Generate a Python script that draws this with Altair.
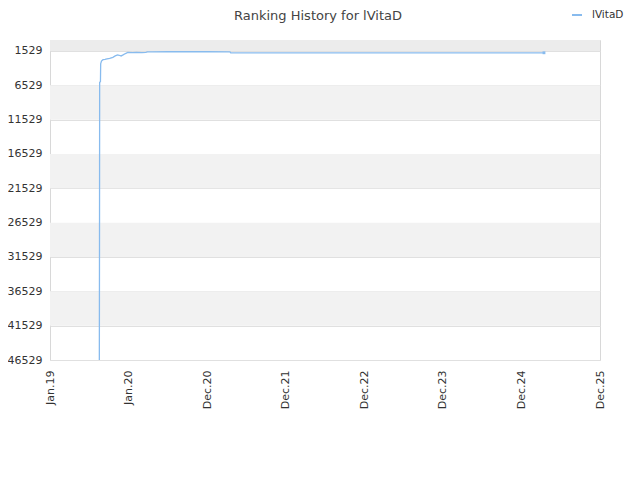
import altair as alt
import pandas as pd

# x in "tick units": 0 = Jan.19, 1 = Jan.20, 2 = Dec.20, ... 7 = Dec.25
tick_labels = ["Jan.19", "Jan.20", "Dec.20", "Dec.21", "Dec.22", "Dec.23", "Dec.24", "Dec.25"]
x_units = [0.628, 0.630, 0.632, 0.642, 0.645, 0.655, 0.675, 0.700, 0.725, 0.760, 0.800,
           0.830, 0.860, 0.880, 0.905, 0.930, 0.960, 0.990, 1.05, 1.10, 1.17, 1.22,
           1.24, 1.30, 1.50, 2.00, 2.29, 2.30, 3.00, 4.00, 5.00, 6.287]
ranks = [46529, 30000, 6100, 6000, 3400, 3000, 2800, 2750, 2680, 2600, 2450,
         2250, 2100, 2150, 2250, 2100, 1900, 1750, 1760, 1750, 1760, 1740,
         1660, 1650, 1640, 1640, 1650, 1790, 1790, 1790, 1790, 1790]
y_ticks = [1529, 6529, 11529, 16529, 21529, 26529, 31529, 36529, 41529, 46529]
top_band = [-71, 1529]
band_start = [6529, 16529, 26529, 36529]
band_end = [11529, 21529, 31529, 41529]

title_text = "Ranking History for lVitaD"
series = "lVitaD"
line_color = "#88bbee"
df = pd.DataFrame({"x": x_units, "rank": ranks, "player": series})
bands = pd.DataFrame({"y": band_start, "y2": band_end})
top = pd.DataFrame({"y": [top_band[0]], "y2": [top_band[1]]})

ydom = [-71, 46529]
xscale = alt.Scale(domain=[0, 7], nice=False, zero=False)
yscale = alt.Scale(domain=ydom, reverse=True, nice=False, zero=False)

label_expr = "[" + ",".join("'%s'" % t for t in tick_labels) + "][round(datum.value)]"

x_axis = alt.Axis(values=list(range(8)), labelExpr=label_expr, labelAngle=270,
                  labelAlign="right", labelBaseline="middle", labelPadding=10,
                  labelFontSize=11, labelColor="#333333", labelFont="DejaVu Sans",
                  grid=False, ticks=False, domain=False, labelOverlap=False)
y_axis = alt.Axis(values=y_ticks, labelFontSize=11, labelColor="#333333",
                  labelFont="DejaVu Sans", grid=True, gridColor="#e0e0e0",
                  ticks=False, domain=False, labelPadding=8, format="d",
                  labelOverlap=False, labelBound=False)

top_layer = alt.Chart(top).mark_rect(color="#ececec").encode(
    x=alt.value(0), x2=alt.value(550),
    y=alt.Y("y:Q", scale=yscale, axis=y_axis, title=None),
    y2="y2:Q",
)
band_layer = alt.Chart(bands).mark_rect(color="#f2f2f2").encode(
    x=alt.value(0), x2=alt.value(550),
    y=alt.Y("y:Q", scale=yscale, axis=y_axis, title=None),
    y2="y2:Q",
)

line = alt.Chart(df).mark_line(strokeWidth=1.3, interpolate="linear", color=line_color).encode(
    x=alt.X("x:Q", scale=xscale, title=None, axis=x_axis),
    y=alt.Y("rank:Q", scale=yscale, title=None, axis=y_axis),
)

end_point = alt.Chart(df.tail(1)).mark_point(shape="square", size=8, filled=True,
                                             color=line_color, opacity=1).encode(
    x=alt.X("x:Q", scale=xscale, axis=x_axis, title=None),
    y=alt.Y("rank:Q", scale=yscale, axis=y_axis, title=None))

legend_df = pd.DataFrame({"player": [series], "title": [title_text]})
legend_sym = alt.Chart(legend_df).mark_rule(color=line_color, strokeWidth=2).encode(
    x=alt.value(522), x2=alt.value(532), y=alt.value(-25))
legend_txt = alt.Chart(legend_df).mark_text(align="left", baseline="middle", fontSize=10.5,
                                            font="DejaVu Sans", color="#333333").encode(
    x=alt.value(542), y=alt.value(-25), text="player:N")
title_mark = alt.Chart(legend_df).mark_text(align="center", baseline="middle", fontSize=13,
                                            font="DejaVu Sans", color="#444444").encode(
    x=alt.value(268), y=alt.value(-24), text="title:N")

chart = alt.layer(top_layer, band_layer, line, end_point, legend_sym, legend_txt,
                  title_mark).properties(
    width=550, height=320,
    autosize=alt.AutoSizeParams(type="none"),
    padding={"left": 42, "top": 32, "right": 32, "bottom": 112},
).configure_view(stroke="#d8d8d8", strokeWidth=1)

chart.save("out.html", embed_options={"renderer": "svg", "actions": False})
